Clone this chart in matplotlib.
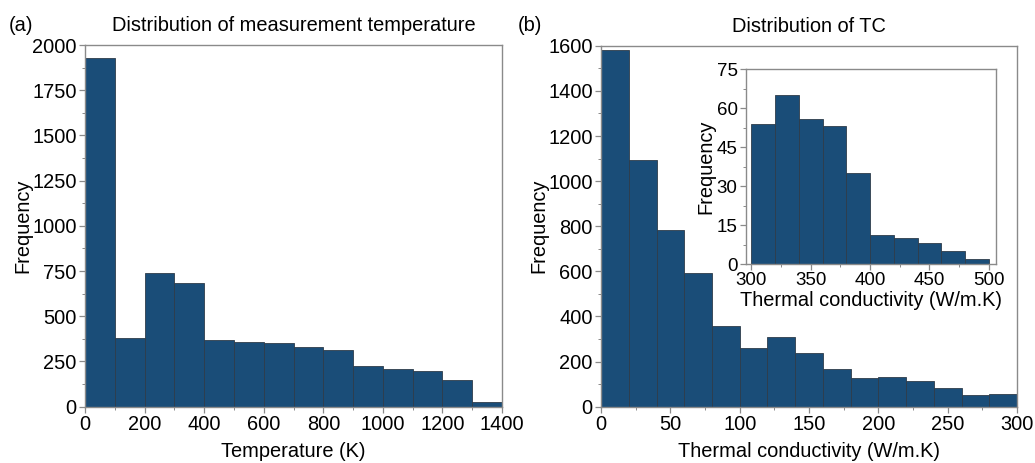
import numpy as np
import matplotlib
matplotlib.use("Agg")
import matplotlib.pyplot as plt
from matplotlib.ticker import MultipleLocator

plt.rcParams["font.family"] = ["Liberation Sans", "DejaVu Sans"]

# (a) measurement temperature, bins of 100 K
temp_edges = np.arange(0, 1500, 100)
temp_counts = [1930, 380, 741, 684, 367, 358, 350, 332, 315, 227, 206, 199, 149, 24]

# (b) thermal conductivity, bins of 20 W/m.K
tc_edges = np.arange(0, 320, 20)
tc_counts = [1583, 1092, 783, 594, 356, 261, 309, 238, 168, 128, 133, 112, 84, 53, 58]

# inset: high thermal conductivity tail
tc_hi_edges = np.arange(300, 520, 20)
tc_hi_counts = [54, 65, 56, 53, 35, 11, 10, 8, 5, 2]

BAR = "#1a4d78"
EDGE = "#2e3c4a"
SPINE = "#8a8a8a"
FS = 14.4


def hist_bars(ax, edges, counts):
    edges = np.asarray(edges)
    ax.bar(edges[:-1], counts, width=np.diff(edges), align="edge",
           color=BAR, edgecolor=EDGE, linewidth=0.6)


def style_axes(ax, fs=FS):
    for sp in ax.spines.values():
        sp.set_color(SPINE)
        sp.set_linewidth(1.0)
    ax.tick_params(which="both", direction="out", color=SPINE,
                   top=False, right=False, labelsize=fs, pad=2)
    ax.tick_params(which="major", length=4, width=0.9)
    ax.tick_params(which="minor", length=2, width=0.7)


fig = plt.figure(figsize=(10.35, 4.63), dpi=100)

# panel (a)
ax1 = fig.add_axes([0.0821, 0.1216, 0.403, 0.781])
hist_bars(ax1, temp_edges, temp_counts)
ax1.set_xlim(0, 1400)
ax1.set_ylim(0, 2000)
ax1.xaxis.set_major_locator(MultipleLocator(200))
ax1.xaxis.set_minor_locator(MultipleLocator(100))
ax1.yaxis.set_major_locator(MultipleLocator(250))
ax1.yaxis.set_minor_locator(MultipleLocator(125))
style_axes(ax1)
ax1.set_xlabel("Temperature (K)", fontsize=FS, labelpad=6)
ax1.set_ylabel("Frequency", fontsize=FS, labelpad=0)
ax1.set_title("Distribution of measurement temperature", fontsize=FS, pad=10)
fig.text(0.008, 0.945, "(a)", fontsize=FS, va="center")

# panel (b)
ax2 = fig.add_axes([0.5807, 0.1216, 0.402, 0.7795])
hist_bars(ax2, tc_edges, tc_counts)
ax2.set_xlim(0, 300)
ax2.set_ylim(0, 1600)
ax2.xaxis.set_major_locator(MultipleLocator(50))
ax2.xaxis.set_minor_locator(MultipleLocator(25))
ax2.yaxis.set_major_locator(MultipleLocator(200))
ax2.yaxis.set_minor_locator(MultipleLocator(100))
style_axes(ax2)
ax2.set_xlabel("Thermal conductivity (W/m.K)", fontsize=FS, labelpad=6)
ax2.set_ylabel("Frequency", fontsize=FS, labelpad=0)
ax2.set_title("Distribution of TC", fontsize=FS, pad=10)
fig.text(0.5, 0.945, "(b)", fontsize=FS, va="center")

# inset
ax3 = fig.add_axes([0.7208, 0.4298, 0.2415, 0.4205])
hist_bars(ax3, tc_hi_edges, tc_hi_counts)
ax3.set_xlim(295.5, 506)
ax3.set_ylim(0, 75)
ax3.xaxis.set_major_locator(MultipleLocator(50))
ax3.xaxis.set_minor_locator(MultipleLocator(25))
ax3.yaxis.set_major_locator(MultipleLocator(15))
ax3.yaxis.set_minor_locator(MultipleLocator(7.5))
style_axes(ax3, fs=13.5)
ax3.set_xlabel("Thermal conductivity (W/m.K)", fontsize=FS, labelpad=1)
ax3.set_ylabel("Frequency", fontsize=FS, labelpad=1)

fig.savefig("out.png", dpi=100)
